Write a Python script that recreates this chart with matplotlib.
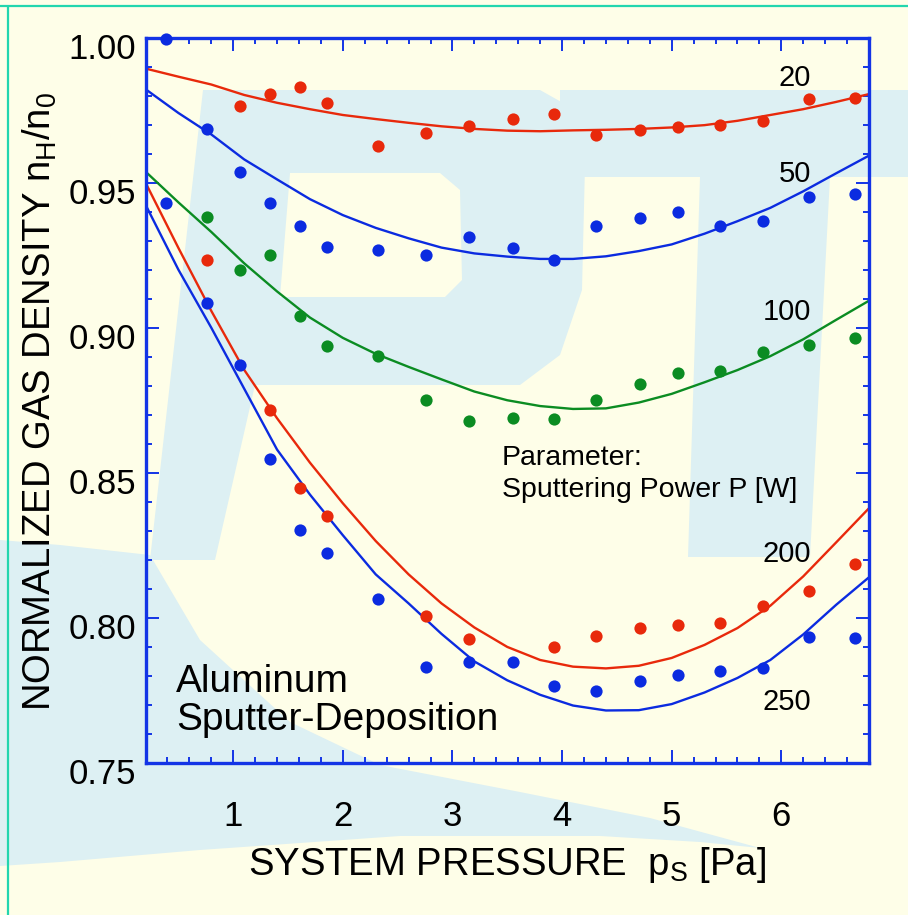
import numpy as np
import matplotlib
matplotlib.use('Agg')
import matplotlib.pyplot as plt
from matplotlib.patches import PathPatch, Polygon, Rectangle
from matplotlib.path import Path
from matplotlib.ticker import MultipleLocator, FixedLocator
from matplotlib.transforms import ScaledTranslation

plt.rcParams['font.family'] = 'Liberation Sans'
plt.rcParams['mathtext.fontset'] = 'custom'
plt.rcParams['mathtext.rm'] = 'Liberation Sans'
plt.rcParams['mathtext.it'] = 'Liberation Sans:italic'

#=====================================================================#
# DATA

# measured points, one array per sputtering power
p_20  = [1.06, 1.34, 1.61, 1.86, 2.32, 2.76, 3.15, 3.55, 3.93, 4.31, 4.71, 5.06, 5.44, 5.83, 6.25, 6.67]
n_20  = [0.9763, 0.9805, 0.9831, 0.9776, 0.9626, 0.9670, 0.9696, 0.9719, 0.9736, 0.9665, 0.9681,
         0.9693, 0.9700, 0.9711, 0.9787, 0.9792]

p_50  = [0.39, 0.76, 1.06, 1.34, 1.61, 1.86, 2.32, 2.76, 3.15, 3.55, 3.93, 4.31, 4.71, 5.06, 5.44, 5.83, 6.25, 6.67]
n_50  = [0.9995, 0.9685, 0.9536, 0.9430, 0.9350, 0.9277, 0.9269, 0.9249, 0.9314, 0.9274, 0.9234,
         0.9349, 0.9377, 0.9397, 0.9349, 0.9366, 0.9449, 0.9461]

p_100 = [0.76, 1.06, 1.34, 1.61, 1.86, 2.32, 2.76, 3.15, 3.55, 3.93, 4.31, 4.71, 5.06, 5.44, 5.83, 6.25, 6.67]
n_100 = [0.9381, 0.9200, 0.9249, 0.9042, 0.8936, 0.8903, 0.8750, 0.8678, 0.8688, 0.8686, 0.8750,
         0.8805, 0.8843, 0.8850, 0.8915, 0.8942, 0.8965]

p_200 = [0.76, 1.34, 1.61, 1.86, 2.76, 3.15, 3.93, 4.31, 4.71, 5.06, 5.44, 5.83, 6.25, 6.67]
n_200 = [0.9232, 0.8718, 0.8448, 0.8350, 0.8008, 0.7928, 0.7900, 0.7937, 0.7964, 0.7975, 0.7983,
         0.8041, 0.8092, 0.8187]

p_250 = [0.39, 0.76, 1.06, 1.34, 1.61, 1.86, 2.32, 2.76, 3.15, 3.55, 3.93, 4.31, 4.71, 5.06, 5.44, 5.83, 6.25, 6.67]
n_250 = [0.9430, 0.9086, 0.8873, 0.8546, 0.8304, 0.8225, 0.8065, 0.7832, 0.7849, 0.7847, 0.7766,
         0.7748, 0.7783, 0.7803, 0.7818, 0.7828, 0.7935, 0.7931]

# fitted curves, read at fixed pressures
p_fit   = [0.2, 0.5, 0.8, 1.1, 1.4, 1.7, 2.0, 2.3, 2.6, 2.9, 3.2, 3.5, 3.8, 4.1, 4.4, 4.7,
           5.0, 5.3, 5.6, 5.9, 6.2, 6.5, 6.8]
fit_20  = [0.9893, 0.9865, 0.9838, 0.9802, 0.9775, 0.9753, 0.9733, 0.9719, 0.9706, 0.9694, 0.9685, 0.9679,
           0.9677, 0.9680, 0.9682, 0.9685, 0.9690, 0.9698, 0.9713, 0.9733, 0.9753, 0.9778, 0.9805]
fit_50  = [0.9822, 0.9740, 0.9666, 0.9580, 0.9511, 0.9443, 0.9388, 0.9344, 0.9308, 0.9276, 0.9256, 0.9245,
           0.9237, 0.9237, 0.9246, 0.9264, 0.9287, 0.9324, 0.9367, 0.9413, 0.9470, 0.9532, 0.9593]
fit_100 = [0.9538, 0.9432, 0.9330, 0.9222, 0.9125, 0.9035, 0.8965, 0.8910, 0.8865, 0.8822, 0.8780, 0.8750,
           0.8730, 0.8720, 0.8722, 0.8742, 0.8772, 0.8812, 0.8854, 0.8902, 0.8960, 0.9027, 0.9093]
fit_200 = [0.9500, 0.9275, 0.9058, 0.8855, 0.8688, 0.8535, 0.8395, 0.8265, 0.8150, 0.8050, 0.7967, 0.7900,
           0.7855, 0.7832, 0.7826, 0.7835, 0.7862, 0.7907, 0.7965, 0.8042, 0.8143, 0.8260, 0.8378]
fit_250 = [0.9424, 0.9200, 0.9000, 0.8790, 0.8580, 0.8425, 0.8285, 0.8150, 0.8050, 0.7945, 0.7850, 0.7785,
           0.7735, 0.7698, 0.7681, 0.7682, 0.7703, 0.7743, 0.7793, 0.7855, 0.7943, 0.8045, 0.8140]

# curve labels: text, baseline height
curve_labels = ['20', '50', '100', '200', '250']
label_y      = [0.9834, 0.9501, 0.9025, 0.8193, 0.7682]

x_ticks = [1, 2, 3, 4, 5, 6]
y_ticks = [0.75, 0.80, 0.85, 0.90, 0.95, 1.00]

#=====================================================================#
# STYLE

RED   = '#e8290b'
BLUE  = '#0b2be0'
GREEN = '#0b8c22'
AXC   = '#1334e6'
BG    = '#fefee8'
WM    = '#ddf0f3'
TEAL  = '#22d6ae'

fig = plt.figure(figsize=(9.08, 9.15), dpi=100, facecolor=BG)

# background layer in pixel coordinates (faint watermark + frame lines)
bg = fig.add_axes([0, 0, 1, 1])
bg.set_xlim(0, 908)
bg.set_ylim(915, 0)
bg.axis('off')

outer = [(203, 90), (540, 90), (572, 108), (585, 165), (582, 290), (560, 355), (520, 385),
         (255, 385), (215, 560), (150, 560), (203, 90)]
hole = [(290, 173), (280, 297), (445, 297), (462, 280), (460, 190), (440, 173), (290, 173)]
codes = [Path.MOVETO] + [Path.LINETO] * (len(outer) - 2) + [Path.CLOSEPOLY]
codes_h = [Path.MOVETO] + [Path.LINETO] * (len(hole) - 2) + [Path.CLOSEPOLY]
pth = Path(outer + hole, codes + codes_h)
bg.add_patch(PathPatch(pth, facecolor=WM, edgecolor='none'))
bg.add_patch(Rectangle((560, 90), 348, 87, facecolor=WM, edgecolor='none'))
bg.add_patch(Polygon([(700, 177), (830, 177), (810, 557), (688, 557)], facecolor=WM, edgecolor='none'))
swoosh = [(0, 540), (60, 545), (150, 555), (200, 640), (290, 722), (380, 765), (520, 792),
          (650, 818), (760, 848), (700, 842), (600, 836), (400, 836), (200, 850), (60, 862), (0, 866)]
bg.add_patch(Polygon(swoosh, facecolor=WM, edgecolor='none'))

bg.plot([0, 908], [6, 6], color=TEAL, lw=1.6, solid_capstyle='butt')
bg.plot([8.3, 8.3], [6, 915], color=TEAL, lw=1.6, solid_capstyle='butt')

# main plot
ax = fig.add_axes([145.5 / 908, 1 - 763 / 915, 723.5 / 908, 725.5 / 915])
ax.set_facecolor('none')

ax.plot(p_fit, fit_20, color=RED, lw=1.7)
ax.plot(p_fit, fit_50, color=BLUE, lw=1.7)
ax.plot(p_fit, fit_100, color=GREEN, lw=1.7)
ax.plot(p_fit, fit_200, color=RED, lw=1.7)
ax.plot(p_fit, fit_250, color=BLUE, lw=1.7)

ms = 8.8
ax.plot(p_20, n_20, 'o', color=RED, ms=ms, mew=0, clip_on=False, zorder=4)
ax.plot(p_50, n_50, 'o', color=BLUE, ms=ms, mew=0, clip_on=False, zorder=4)
ax.plot(p_100, n_100, 'o', color=GREEN, ms=ms, mew=0, clip_on=False, zorder=4)
ax.plot(p_200, n_200, 'o', color=RED, ms=ms, mew=0, clip_on=False, zorder=4)
ax.plot(p_250, n_250, 'o', color=BLUE, ms=ms, mew=0, clip_on=False, zorder=4)

for lab, yv in zip(curve_labels, label_y):
    ax.text(6.27, yv, lab, ha='right', va='baseline', fontsize=21)

ax.text(3.45, 0.8526, 'Parameter:', ha='left', va='baseline', fontsize=20.5)
ax.text(3.45, 0.8417, 'Sputtering Power P [W]', ha='left', va='baseline', fontsize=20.5)
ax.text(0.478, 0.7745, 'Aluminum', ha='left', va='baseline', fontsize=28)
ax.text(0.478, 0.7614, 'Sputter-Deposition', ha='left', va='baseline', fontsize=28)

ax.set_xlim(0.2, 6.8)
ax.set_ylim(0.75, 1.00)
ax.xaxis.set_major_locator(FixedLocator(x_ticks))
ax.xaxis.set_minor_locator(MultipleLocator(0.2))
ax.set_yticks(y_ticks, ['%.2f' % v for v in y_ticks])
ax.yaxis.set_minor_locator(MultipleLocator(0.01))

for s in ax.spines.values():
    s.set_color(AXC)
    s.set_linewidth(2.4)
ax.tick_params(which='both', direction='in', top=True, right=True, color=AXC, width=1.4)
ax.tick_params(which='major', length=9.5)
ax.tick_params(which='minor', length=4.5)
ax.tick_params(axis='x', pad=27, labelsize=25)
ax.tick_params(axis='y', pad=6.5, labelsize=25)

shift = ScaledTranslation(0, -0.085, fig.dpi_scale_trans)
for lab in ax.get_yticklabels():
    lab.set_transform(lab.get_transform() + shift)

ax.set_xlabel(r'SYSTEM PRESSURE  $\mathregular{p_S}$ [Pa]', fontsize=27.5, labelpad=8)
fig.text(40 / 908, 1 - 401.5 / 915, r'NORMALIZED GAS DENSITY $\mathregular{n_H/n_0}$',
         rotation=90, ha='center', va='center', fontsize=27.5)

fig.savefig('out.png', dpi=100, facecolor=BG)
